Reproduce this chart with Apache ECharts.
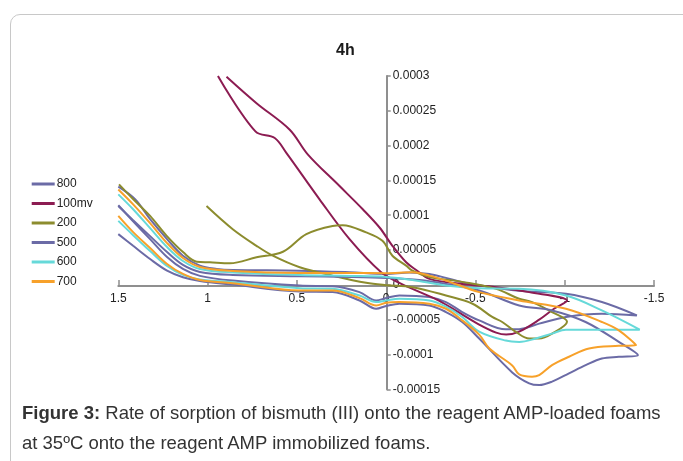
<!DOCTYPE html>
<html>
<head>
<meta charset="utf-8">
<title>4h</title>
<script src="https://cdn.jsdelivr.net/npm/echarts@6/dist/echarts.min.js"></script>
<style>
  html, body { margin: 0; padding: 0; background: #fff; }
  .figure { position: relative; width: 683px; height: 461px; overflow: hidden; font-family: "Liberation Sans", Arial, sans-serif; }
  .frame { position: absolute; left: 10px; top: 14px; width: 720px; height: 480px; border: 1px solid #c8c8c8; border-radius: 10px; box-sizing: border-box; }
  #chart { position: absolute; left: 0; top: 0; width: 683px; height: 461px; }
  .caption { position: absolute; left: 22px; top: 398px; font-size: 18.5px; line-height: 30px; color: #333; white-space: nowrap; }
</style>
</head>
<body>
<div class="figure">
  <div class="frame"></div>
  <div id="chart"></div>
  <div class="caption"><b>Figure 3:</b> Rate of sorption of bismuth (III) onto the reagent AMP-loaded foams<br>at 35ºC onto the reagent AMP immobilized foams.</div>
</div>
<script>
// potential (V) vs current, one loop per scan rate
const seriesNames = ['800', '100mv', '200', '500', '600', '700']
const seriesColors = ['#6b6ba6', '#8c1c52', '#8c8c2e', '#6b6ba6', '#66d9d9', '#f7a12a']

const xMin = -1.5
const xMax = 1.5
const xStep = 0.5
const yMin = -15e-5
const yMax = 30e-5
const yStep = 5e-5

// 800 (small purple loop)
const s800 = [
  [1.5, 14.1e-5], [1.406, 12.29e-5], [1.322, 9.43e-5], [1.227, 6.57e-5], [1.138, 4.19e-5],
  [1.043, 2.76e-5], [0.948, 2.29e-5], [0.859, 2.14e-5], [0.484, 2.04e-5], [0.205, 1.81e-5],
  [0, 1.57e-5], [-0.13, 1.79e-5], [-0.242, 1.57e-5], [-0.335, 1.0e-5], [-0.426, 0.39e-5],
  [-0.521, -0.1e-5], [-0.745, -0.86e-5], [-1.007, -1.29e-5], [-1.208, -2.47e-5], [-1.404, -4.39e-5],
  [-1.208, -4.14e-5], [-1.007, -4.61e-5], [-0.857, -5.57e-5], [-0.745, -6.36e-5], [-0.67, -6.39e-5],
  [-0.521, -5.1e-5], [-0.426, -3.9e-5], [-0.335, -2.47e-5], [-0.242, -1.76e-5], [-0.074, -1.53e-5],
  [0, -1.9e-5], [0.056, -2.24e-5], [0.149, -1.04e-5], [0.3, -0.19e-5], [0.484, -0.1e-5],
  [0.859, 0.61e-5], [1.043, 1.29e-5], [1.138, 2.29e-5], [1.227, 4.0e-5], [1.322, 6.57e-5],
  [1.417, 9.14e-5], [1.5, 11.43e-5]
]

// 100mv
const s100mv = [
  [0.942, 30.0e-5], [0.732, 22.04e-5], [0.624, 21.1e-5], [0.559, 18.96e-5], [0.373, 12.29e-5],
  [0.205, 6.57e-5], [0.028, 1.81e-5], [-0.074, 0.29e-5], [-0.186, -1.0e-5], [-0.298, -2.29e-5],
  [-0.409, -4.0e-5], [-0.521, -5.71e-5], [-0.616, -6.86e-5], [-0.672, -7.14e-5], [-0.745, -6.71e-5],
  [-0.857, -5.0e-5], [-0.94, -3.43e-5], [-1.013, -2.29e-5], [-0.801, -1.04e-5], [-0.615, -0.33e-5],
  [-0.426, 0.14e-5], [-0.242, 0.86e-5], [-0.168, 2.14e-5], [-0.112, 3.24e-5], [-0.035, 5.61e-5],
  [0.037, 8.24e-5], [0.131, 10.86e-5], [0.261, 14.19e-5], [0.438, 18.71e-5], [0.54, 22.29e-5],
  [0.726, 26.1e-5], [0.894, 29.9e-5]
]

// 200
const s200 = [
  [1.006, 11.33e-5], [0.859, 8.0e-5], [0.726, 5.61e-5], [0.635, 4.19e-5], [0.484, 2.53e-5],
  [0.3, 1.33e-5], [0.112, 0.29e-5], [0, -0.04e-5], [-0.147, -0.33e-5], [-0.335, -1.53e-5],
  [-0.484, -2.71e-5], [-0.594, -4.61e-5], [-0.65, -5.33e-5], [-0.726, -6.76e-5], [-0.801, -7.71e-5],
  [-0.856, -7.71e-5], [-0.929, -7.0e-5], [-1.013, -5.29e-5], [-0.929, -3.9e-5], [-0.817, -2.47e-5],
  [-0.745, -2.0e-5], [-0.615, -0.57e-5], [-0.426, 0.43e-5], [-0.242, 1.14e-5], [-0.147, 2.04e-5],
  [-0.112, 2.76e-5], [-0.035, 4.19e-5], [0.021, 6.33e-5], [0.112, 7.53e-5], [0.244, 8.57e-5],
  [0.3, 8.47e-5], [0.447, 7.29e-5], [0.578, 4.76e-5], [0.726, 3.96e-5], [0.875, 3.1e-5],
  [0.987, 3.24e-5], [1.061, 3.33e-5], [1.136, 4.67e-5], [1.229, 7.04e-5], [1.322, 9.9e-5],
  [1.416, 12.29e-5], [1.496, 14.43e-5]
]

// 500 (big purple loop)
const s500 = [
  [1.5, 11.33e-5], [1.417, 9.29e-5], [1.322, 7.0e-5], [1.227, 4.71e-5], [1.138, 2.86e-5],
  [1.043, 1.86e-5], [0.859, 1.43e-5], [0.484, 1.24e-5], [0.205, 1.14e-5], [0, 1.0e-5],
  [-0.186, 0.71e-5], [-0.335, 0.14e-5], [-0.521, -0.81e-5], [-0.745, -2.96e-5], [-0.929, -3.67e-5],
  [-1.117, -5.33e-5], [-1.303, -8.19e-5], [-1.41, -10.1e-5], [-1.303, -10.33e-5], [-1.208, -10.57e-5],
  [-1.117, -11.53e-5], [-1.024, -12.71e-5], [-0.929, -13.9e-5], [-0.857, -14.39e-5], [-0.801, -14.14e-5],
  [-0.706, -12.57e-5], [-0.521, -7.71e-5], [-0.426, -5.33e-5], [-0.335, -3.9e-5], [-0.242, -2.96e-5],
  [-0.074, -2.71e-5], [0, -3.04e-5], [0.056, -3.43e-5], [0.149, -2.24e-5], [0.3, -1.04e-5],
  [0.484, -0.96e-5], [0.859, 0.04e-5], [1.043, 0.57e-5], [1.138, 1.1e-5], [1.227, 2.04e-5],
  [1.322, 3.71e-5], [1.417, 5.61e-5], [1.5, 7.29e-5]
]

// 600
const s600 = [
  [1.5, 13.0e-5], [1.417, 10.86e-5], [1.322, 8.14e-5], [1.227, 5.43e-5], [1.138, 3.43e-5],
  [1.043, 2.29e-5], [0.859, 1.79e-5], [0.484, 1.43e-5], [0.205, 1.29e-5], [0, 1.14e-5],
  [-0.147, 0.71e-5], [-0.335, -0.1e-5], [-0.521, -0.5e-5], [-0.745, -0.57e-5], [-1.007, -1.53e-5],
  [-1.208, -3.67e-5], [-1.42, -6.43e-5], [-1.208, -6.43e-5], [-1.007, -6.43e-5], [-0.929, -7.0e-5],
  [-0.838, -7.71e-5], [-0.745, -8.19e-5], [-0.67, -8.0e-5], [-0.521, -6.71e-5], [-0.426, -4.61e-5],
  [-0.335, -3.14e-5], [-0.242, -2.24e-5], [-0.074, -2.0e-5], [0, -2.24e-5], [0.056, -2.47e-5],
  [0.149, -1.53e-5], [0.3, -0.57e-5], [0.484, -0.47e-5], [0.859, 0.39e-5], [1.043, 0.79e-5],
  [1.138, 1.43e-5], [1.227, 2.71e-5], [1.322, 4.86e-5], [1.417, 7.14e-5], [1.5, 9.19e-5]
]

// 700
const s700 = [
  [1.5, 13.71e-5], [1.417, 11.57e-5], [1.322, 8.86e-5], [1.227, 6.0e-5], [1.138, 3.86e-5],
  [1.043, 2.57e-5], [0.859, 2.0e-5], [0.484, 1.71e-5], [0.205, 1.71e-5], [0, 1.67e-5],
  [-0.147, 1.81e-5], [-0.242, 1.33e-5], [-0.335, 0.61e-5], [-0.521, -1.04e-5], [-0.745, -2.24e-5],
  [-1.007, -3.43e-5], [-1.208, -5.33e-5], [-1.303, -6.53e-5], [-1.4, -8.67e-5], [-1.303, -8.76e-5],
  [-1.136, -9.14e-5], [-1.024, -10.33e-5], [-0.929, -11.53e-5], [-0.857, -12.96e-5], [-0.817, -13.19e-5],
  [-0.745, -12.86e-5], [-0.706, -11.57e-5], [-0.578, -9.14e-5], [-0.521, -7.14e-5], [-0.426, -5.1e-5],
  [-0.335, -3.43e-5], [-0.242, -2.71e-5], [-0.074, -2.47e-5], [0, -2.57e-5], [0.056, -2.96e-5],
  [0.149, -1.9e-5], [0.3, -0.81e-5], [0.484, -0.81e-5], [0.859, 0.24e-5], [1.043, 0.71e-5],
  [1.138, 1.57e-5], [1.227, 3.0e-5], [1.322, 5.29e-5], [1.417, 7.57e-5], [1.5, 9.9e-5]
]

const seriesData = [s800, s100mv, s200, s500, s600, s700]

// grid box in px; the axes cross at (0, 0) inside it
const gridLeft = 118.3
const gridRight = 29
const gridTop = 76
const gridBottom = 71.7
const zeroX = 386.7
const zeroY = 286

const myChart = echarts.init(document.getElementById('chart'))

const option = {
  animation: false,
  color: seriesColors,
  textStyle: { fontFamily: '"Liberation Sans", Arial, sans-serif' },
  title: {
    text: '4h',
    left: 331,
    top: 38,
    textStyle: { fontSize: 16, fontWeight: 'bold', color: '#1a1a1a' }
  },
  legend: {
    orient: 'vertical',
    left: 26.7,
    top: 172,
    icon: 'rect',
    itemWidth: 23,
    itemHeight: 3,
    itemGap: 5.5,
    data: seriesNames,
    textStyle: { fontSize: 12, color: '#222', padding: [0, 0, 0, -3], lineHeight: 14 }
  },
  grid: {
    left: gridLeft,
    right: gridRight,
    top: gridTop,
    bottom: gridBottom
  },
  xAxis: {
    type: 'value',
    inverse: true,
    min: xMin,
    max: xMax,
    interval: xStep,
    position: 'bottom',
    offset: -(461 - gridBottom - zeroY),
    axisLine: { onZero: false, lineStyle: { color: '#8f8f8f', width: 2 } },
    axisTick: { show: true, inside: true, length: 6, lineStyle: { color: '#8f8f8f', width: 1.5 } },
    axisLabel: { fontSize: 12, color: '#222', margin: 7 },
    splitLine: { show: false }
  },
  yAxis: {
    type: 'value',
    min: yMin,
    max: yMax,
    interval: yStep,
    position: 'left',
    offset: -(zeroX - gridLeft),
    axisLine: { show: true, onZero: false, lineStyle: { color: '#8f8f8f', width: 2 } },
    axisTick: { show: true, inside: true, length: 4, lineStyle: { color: '#8f8f8f', width: 1.5 } },
    axisLabel: {
      inside: true,
      fontSize: 12,
      color: '#222',
      margin: 6,
      formatter: function (value) {
        return String(parseFloat(value.toFixed(5)))
      }
    },
    splitLine: { show: false }
  },
  series: seriesNames.map(function (name, i) {
    return {
      name: name,
      type: 'line',
      data: seriesData[i],
      smooth: 0.35,
      showSymbol: false,
      symbol: 'none',
      lineStyle: { width: 2, color: seriesColors[i] },
      itemStyle: { color: seriesColors[i] }
    }
  })
}

myChart.setOption(option)
</script>
</body>
</html>
